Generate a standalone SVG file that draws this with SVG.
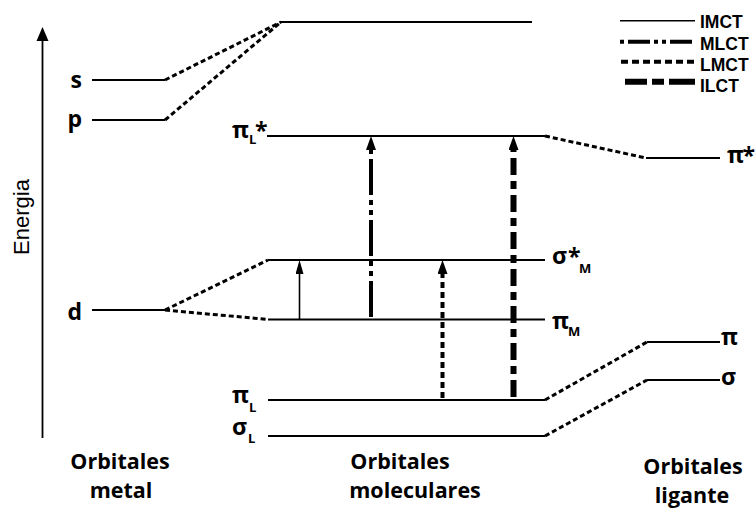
<svg xmlns="http://www.w3.org/2000/svg" width="755" height="508" viewBox="0 0 755 508">
  <style>
    .lvl { stroke: #000; stroke-width: 2; fill: none; }
    .corr { stroke: #000; stroke-width: 3; stroke-dasharray: 5 3; fill: none; }
    .lab { font-family: "Open Sans", "Noto Sans", sans-serif; font-weight: 700; font-size: 23px; fill: #000; }
    .gk { font-family: "Open Sans", "Noto Sans", "DejaVu Sans", sans-serif; font-weight: 700; font-size: 23px; fill: #000; }
    .sub { font-size: 13px; }
    .ttl { font-family: "Open Sans", "Noto Sans", sans-serif; font-weight: 700; font-size: 21.5px; fill: #000; text-anchor: middle; }
    .leg { font-family: "Liberation Sans", Arial, sans-serif; font-weight: 700; font-size: 17.5px; fill: #000; }
    .imct { stroke: #000; stroke-width: 1.6; fill: none; }
    .mlct { stroke: #000; stroke-width: 4; stroke-dasharray: 36 5 5 5 5 5; fill: none; }
    .lmct { stroke: #000; stroke-width: 4; stroke-dasharray: 6 4; fill: none; }
    .ilct { stroke: #000; stroke-width: 6; stroke-dasharray: 17 6 8 6; fill: none; }
  </style>
  <defs>
    <marker id="head" viewBox="0 0 14 10" markerWidth="14" markerHeight="10" refX="0" refY="5" orient="auto" markerUnits="userSpaceOnUse">
      <path d="M0,0 L14,5 L0,10 z" fill="#000"/>
    </marker>
    <marker id="headThin" viewBox="0 0 14 8" markerWidth="14" markerHeight="8" refX="0" refY="4" orient="auto" markerUnits="userSpaceOnUse">
      <path d="M0,0 L14,4 L0,8 z" fill="#000"/>
    </marker>
  </defs>

  <!-- energy axis -->
  <g id="axis">
    <line x1="42.5" y1="438" x2="42.5" y2="40" stroke="#000" stroke-width="1.8"/>
    <path d="M36.5,41 L42.5,27 L48.5,41 z" fill="#000"/>
    <text transform="translate(29,217) rotate(-90)" text-anchor="middle" font-family="Liberation Sans, Arial, sans-serif" font-size="22">Energia</text>
  </g>

  <!-- metal orbitals -->
  <g id="metal-s">
    <line class="lvl" x1="92" y1="80" x2="165" y2="80"/>
    <text class="lab" x="82" y="88" text-anchor="end">s</text>
  </g>
  <g id="metal-p">
    <line class="lvl" x1="92" y1="120" x2="165" y2="120"/>
    <text class="lab" x="82" y="127" text-anchor="end">p</text>
  </g>
  <g id="metal-d">
    <line class="lvl" x1="92" y1="310" x2="165" y2="310"/>
    <text class="lab" x="82" y="320" text-anchor="end">d</text>
  </g>

  <!-- molecular orbitals -->
  <g id="mo-top">
    <line class="lvl" x1="280" y1="22" x2="532" y2="22"/>
  </g>
  <g id="mo-piL-star">
    <line class="lvl" x1="267" y1="136" x2="545" y2="136"/>
    <text class="gk"><tspan x="232" y="138">π</tspan><tspan class="sub" x="249" y="144">L</tspan><tspan x="255" y="139">*</tspan></text>
  </g>
  <g id="mo-sigmaM-star">
    <line class="lvl" x1="268" y1="260" x2="545" y2="260"/>
    <text class="gk"><tspan x="552" y="264">σ</tspan><tspan x="568" y="265">*</tspan><tspan class="sub" x="579" y="273">M</tspan></text>
  </g>
  <g id="mo-piM">
    <line class="lvl" x1="268" y1="319.5" x2="545" y2="319.5"/>
    <text class="gk"><tspan x="552" y="329">π</tspan><tspan class="sub" x="568" y="336">M</tspan></text>
  </g>
  <g id="mo-piL">
    <line class="lvl" x1="268" y1="400" x2="545" y2="400"/>
    <text class="gk"><tspan x="232" y="403">π</tspan><tspan class="sub" x="249" y="412">L</tspan></text>
  </g>
  <g id="mo-sigmaL">
    <line class="lvl" x1="268" y1="436" x2="545" y2="436"/>
    <text class="gk"><tspan x="232" y="435">σ</tspan><tspan class="sub" x="248" y="443">L</tspan></text>
  </g>

  <!-- ligand orbitals -->
  <g id="lig-pi-star">
    <line class="lvl" x1="646" y1="158" x2="720" y2="158"/>
    <text class="gk"><tspan x="727" y="163">π</tspan><tspan x="742.5" y="164">*</tspan></text>
  </g>
  <g id="lig-pi">
    <line class="lvl" x1="647" y1="342" x2="720" y2="342"/>
    <text class="gk" x="721" y="345">π</text>
  </g>
  <g id="lig-sigma">
    <line class="lvl" x1="647" y1="380" x2="720" y2="380"/>
    <text class="gk" x="721" y="385">σ</text>
  </g>

  <!-- correlation lines and transitions -->
  <g id="connectors">
    <line class="corr" x1="165" y1="80" x2="281" y2="22"/>
    <line class="corr" x1="165" y1="120" x2="281" y2="22"/>
    <line class="corr" x1="165" y1="310" x2="268" y2="260"/>
    <line class="corr" x1="165" y1="310" x2="268" y2="319.5"/>
    <line class="corr" x1="545" y1="136" x2="646" y2="158"/>
    <line class="corr" x1="545" y1="400" x2="647" y2="342"/>
    <line class="corr" x1="545" y1="436" x2="647" y2="380"/>

    <line class="imct" x1="299.5" y1="319" x2="299.5" y2="274" marker-end="url(#headThin)"/>
    <line class="mlct" x1="371" y1="317" x2="371" y2="150" marker-end="url(#head)"/>
    <line class="lmct" x1="442.5" y1="398" x2="442.5" y2="274" marker-end="url(#head)"/>
    <line class="ilct" x1="513.5" y1="397" x2="513.5" y2="150" marker-end="url(#head)"/>
  </g>

  <!-- legend -->
  <g id="legend">
    <line class="imct" x1="620" y1="20.7" x2="695" y2="20.7" stroke-width="2"/>
    <line class="mlct" x1="620" y1="41.7" x2="695" y2="41.7" stroke-width="3" style="stroke-dasharray: 4 4 22 4 4 4 4 4 22"/>
    <line class="lmct" x1="621" y1="61.7" x2="695" y2="61.7" stroke-width="3" style="stroke-dasharray: 7 4"/>
    <line class="ilct" x1="625" y1="81.7" x2="695" y2="81.7" stroke-width="5" style="stroke-dasharray: 22 5 12 5 30"/>
    <text class="leg" x="700" y="28.3">IMCT</text>
    <text class="leg" x="700" y="49.5">MLCT</text>
    <text class="leg" x="700" y="70.5">LMCT</text>
    <text class="leg" x="700" y="91.5">ILCT</text>
  </g>

  <!-- column titles -->
  <g id="titles">
    <text class="ttl" x="120" y="469">Orbitales</text>
    <text class="ttl" x="121" y="498">metal</text>
    <text class="ttl" x="400" y="469">Orbitales</text>
    <text class="ttl" x="415" y="498">moleculares</text>
    <text class="ttl" x="693" y="474">Orbitales</text>
    <text class="ttl" x="692" y="503">ligante</text>
  </g>
</svg>
